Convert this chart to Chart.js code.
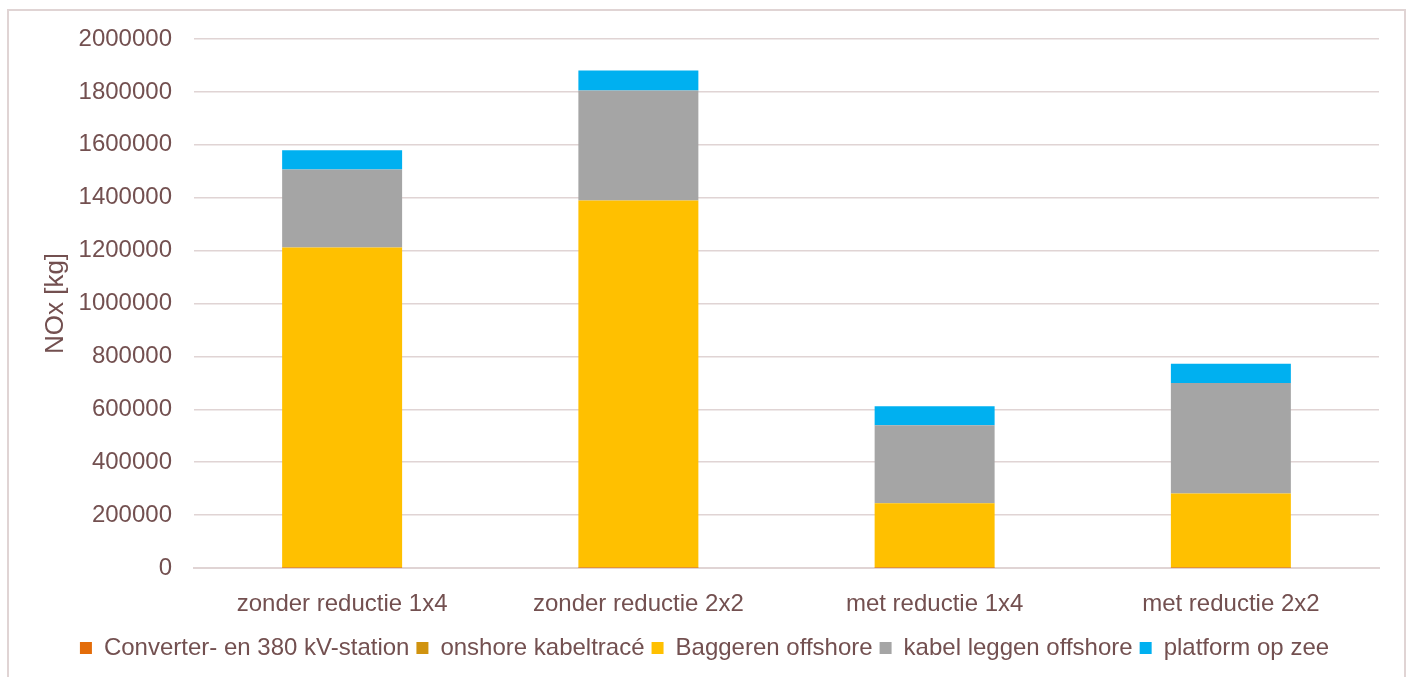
<!DOCTYPE html>
<html>
<head>
<meta charset="utf-8">
<script src="https://cdn.jsdelivr.net/npm/chart.js@4"></script>
<style>
  body { margin: 0; background: #fff; overflow: hidden; }
  #frame {
    position: absolute; left: 7px; top: 9px; width: 1399px; height: 700px;
    border: 2px solid #e0d4d4; box-sizing: border-box;
  }
  #canvas { position: absolute; left: 0; top: 0; }
</style>
</head>
<body>
<div id="frame"></div>
<canvas id="canvas" width="1410" height="677"></canvas>
<script>
const ctx = document.getElementById("canvas");

// categories and series (NOx in kg)
const categories = [
  "zonder reductie 1x4",
  "zonder reductie 2x2",
  "met reductie 1x4",
  "met reductie 2x2",
];
const converterStation = [1000, 1000, 1000, 1000];
const onshoreKabeltrace = [1000, 1000, 1000, 1000];
const baggerenOffshore = [1210000, 1387000, 243000, 280000];
const kabelLeggenOffshore = [295000, 416000, 295000, 417000];
const platformOpZee = [72000, 76000, 72000, 73000];

const textColor = "#735050";
const gridColor = "#e0d4d4";
const fontFamily = "'Liberation Sans', Arial, sans-serif";

const datasets = [
  { label: "Converter- en 380 kV-station", data: converterStation, backgroundColor: "#e36c09" },
  { label: "onshore kabeltracé", data: onshoreKabeltrace, backgroundColor: "#d0930f" },
  { label: "Baggeren offshore", data: baggerenOffshore, backgroundColor: "#ffc000" },
  { label: "kabel leggen offshore", data: kabelLeggenOffshore, backgroundColor: "#a5a5a5" },
  { label: "platform op zee", data: platformOpZee, backgroundColor: "#00b0f0" },
];

new Chart(ctx, {
  type: "bar",
  data: { labels: categories, datasets: datasets },
  options: {
    responsive: false,
    animation: false,
    devicePixelRatio: 1,
    layout: { padding: { left: 30, right: 31, top: 39, bottom: 7 } },
    datasets: {
      bar: { categoryPercentage: 1.0, barPercentage: 0.405 },
    },
    plugins: {
      tooltip: { enabled: false },
      legend: {
        position: "bottom",
        labels: {
          color: textColor,
          boxWidth: 12,
          boxHeight: 12,
          padding: 7,
          font: { family: fontFamily, size: 24 },
        },
      },
    },
    scales: {
      x: {
        stacked: true,
        grid: { display: false },
        border: { display: true, color: gridColor, width: 2 },
        ticks: {
          color: textColor,
          padding: 14,
          font: { family: fontFamily, size: 24 },
        },
        afterFit: (s) => { s.height = 61; },
      },
      y: {
        stacked: true,
        min: 0,
        max: 2000000,
        grid: { color: gridColor, lineWidth: 1.5, drawTicks: false },
        border: { display: false },
        title: {
          display: true,
          text: "NOx [kg]",
          color: textColor,
          padding: { top: 10, bottom: 0 },
          font: { family: fontFamily, size: 26 },
        },
        ticks: {
          stepSize: 200000,
          color: textColor,
          padding: 22,
          font: { family: fontFamily, size: 24 },
          callback: (v) => String(v),
        },
        afterFit: (s) => { s.width = 194 - 30; },
      },
    },
  },
});
</script>
</body>
</html>
